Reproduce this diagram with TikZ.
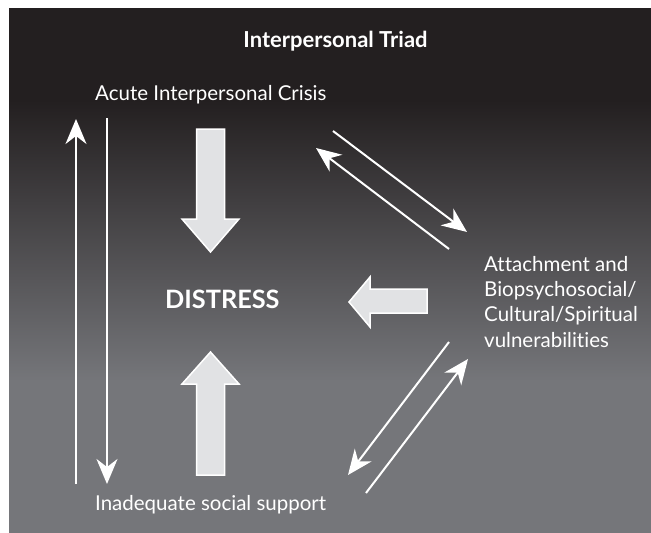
\documentclass[tikz,border=0pt]{standalone}
\usepackage{fontspec}
\setmainfont{Lato}[Ligatures={NoCommon,NoContextual}]
\usetikzlibrary{arrows.meta}
\definecolor{bgdark}{HTML}{231F20}
\definecolor{bggray}{HTML}{75767A}
\definecolor{blockfill}{HTML}{E1E2E4}
\begin{document}
\begin{tikzpicture}[x=1pt,y=-1pt,
  lbl/.style={text=white, inner sep=0pt, font=\fontsize{20.5}{25.3}\selectfont},
  thinarrow/.style={draw=white, line width=2pt, -{Stealth[length=25pt,width=21pt,inset=8pt]}},
  blockarrow/.style={fill=blockfill, draw=white, line width=1.5pt, line join=miter}]
\useasboundingbox (0,0) rectangle (651,533);
\fill[white] (0,0) rectangle (651,533);
\fill[bgdark] (9,8) rectangle (651,101);
\shade[top color=bgdark, bottom color=bggray] (9,100) rectangle (651,381);
\fill[bggray] (9,380) rectangle (651,533);

% texts
\node[lbl, anchor=base, font=\fontsize{22}{26}\selectfont\bfseries] (title) at (335.5,47) {Interpersonal Triad};
\node[lbl, anchor=base west] (crisis) at (95,100) {Acute Interpersonal Crisis};
\node[lbl, anchor=base west] (support) at (95,510) {Inadequate social support};
\node[lbl, anchor=base west, font=\fontsize{25.3}{30}\selectfont\bfseries] (distress) at (165,308) {DISTRESS};
\node[lbl, anchor=north west, align=left] (vuln) at (484,256) {Attachment and\\Biopsychosocial/\\Cultural/Spiritual\\vulnerabilities};

% block arrows
\draw[blockarrow] (196.5,129) -- (224.5,129) -- (224.5,219) -- (239,219) -- (210.5,252) -- (182,219) -- (196.5,219) -- cycle;
\draw[blockarrow] (196.5,475) -- (224.5,475) -- (224.5,384) -- (239,384) -- (210.5,352) -- (182,384) -- (196.5,384) -- cycle;
\draw[blockarrow] (427,289) -- (427,313) -- (370,313) -- (370,327) -- (349,302) -- (370,277) -- (370,289) -- cycle;

% thin arrow end points
\coordinate (upS) at (76,484);
\coordinate (upE) at (76,119);
\coordinate (dnS) at (107,118);
\coordinate (dnE) at (107,484);
\coordinate (aS) at (333,131);
\coordinate (aE) at (467,232);
\coordinate (bS) at (449,249);
\coordinate (bE) at (316,148);
\coordinate (cS) at (449,342);
\coordinate (cE) at (348,475);
\coordinate (dS) at (366,493);
\coordinate (dE) at (468,359);

\draw[thinarrow] (upS) -- (upE);
\draw[thinarrow] (dnS) -- (dnE);
\draw[thinarrow] (aS) -- (aE);
\draw[thinarrow] (bS) -- (bE);
\draw[thinarrow] (cS) -- (cE);
\draw[thinarrow] (dS) -- (dE);
\end{tikzpicture}
\end{document}
